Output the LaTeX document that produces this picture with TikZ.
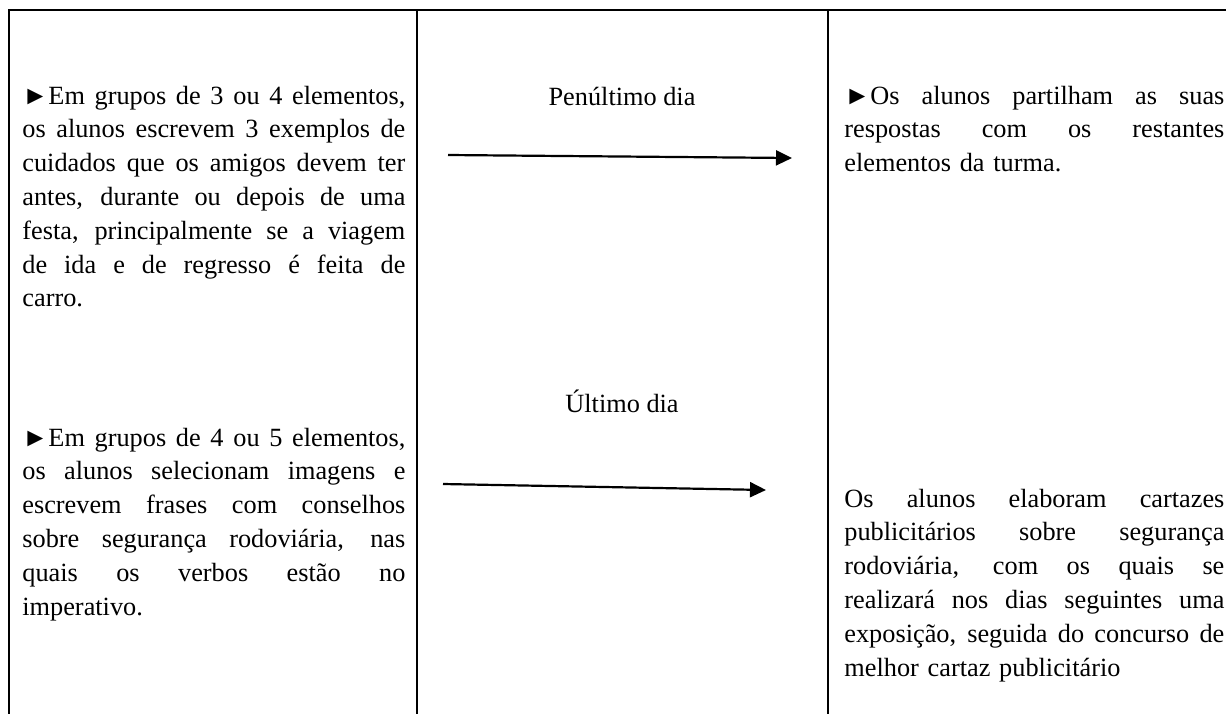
\documentclass[tikz,border=0pt]{standalone}
\usepackage{fontspec}
\setmainfont{Liberation Serif}
\usetikzlibrary{arrows.meta}
\newcommand{\jl}[1]{\leavevmode\hbox to \linewidth{\spaceskip=0.25em plus 1fil\relax #1}\\}
\tikzset{
  rule/.style={line width=1pt, line cap=rect},
  para/.style={anchor=base west, inner sep=0pt,
    font=\fontsize{13.15}{16.9}\selectfont},
  lbl/.style={anchor=base, inner sep=0pt, font=\fontsize{13.15}{16.9}\selectfont},
  arr/.style={line width=1.1pt, -{Triangle[length=8pt,width=7.5pt]}}
}
\begin{document}
\begin{tikzpicture}[x=0.5pt,y=-0.5pt]
\useasboundingbox (0,0) rectangle (1226,713);
% table rules
\draw[rule] (9,10) -- (1226,10);
\draw[rule] (9,10) -- (9,713);
\draw[rule] (417,10) -- (417,713);
\draw[rule] (828,10) -- (828,713);
% left column
\node[para, text width=191.5pt] (l1) at (22,104) {%
\jl{►Em grupos de 3 ou 4 elementos,}
\jl{os alunos escrevem 3 exemplos de}
\jl{cuidados que os amigos devem ter}
\jl{antes, durante ou depois de uma}
\jl{festa, principalmente se a viagem}
\jl{de ida e de regresso é feita de}
carro.};
\node[para, text width=191.5pt] (l2) at (22,446) {%
\jl{►Em grupos de 4 ou 5 elementos,}
\jl{os alunos selecionam imagens e}
\jl{escrevem frases com conselhos}
\jl{sobre segurança rodoviária, nas}
\jl{quais os verbos estão no}
imperativo.};
% right column
\node[para, text width=190pt] (r1) at (844,104) {%
\jl{►Os alunos partilham as suas}
\jl{respostas com os restantes}
elementos da turma.};
\node[para, text width=190pt] (r2) at (844,507) {%
\jl{Os alunos elaboram cartazes}
\jl{publicitários sobre segurança}
\jl{rodoviária, com os quais se}
\jl{realizará nos dias seguintes uma}
\jl{exposição, seguida do concurso de}
melhor cartaz publicitário};
% middle column
\node[lbl] (m1) at (622,105) {Penúltimo dia};
\node[lbl] (m2) at (622,412) {Último dia};
\coordinate (a1s) at (448,155);
\coordinate (a1e) at (792,158);
\coordinate (a2s) at (443,484);
\coordinate (a2e) at (766,490);
\draw[arr] (a1s) -- (a1e);
\draw[arr] (a2s) -- (a2e);
\end{tikzpicture}
\end{document}
